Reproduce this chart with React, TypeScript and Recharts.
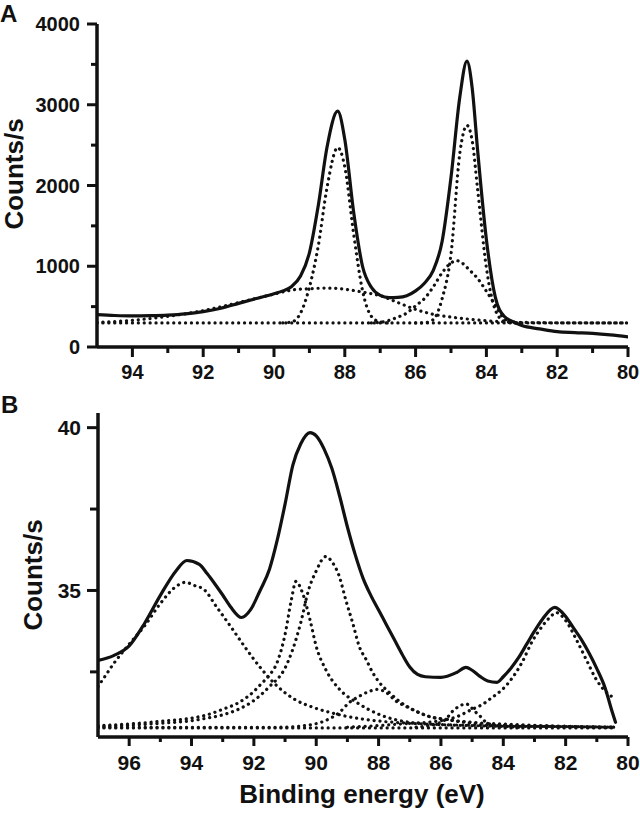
import { LineChart, Line, XAxis, YAxis } from "recharts";

const INK = "#111";
const FONT = "'Liberation Sans', Arial, Helvetica, sans-serif";

// ---------- Panel A (binding energy in eV, counts/s) ----------
const energyA = [
  95, 94.5, 94, 93.5, 93, 92.5, 92, 91.5, 91, 90.5,
  90, 89.75, 89.5, 89.25, 89, 88.75, 88.5, 88.2, 88, 87.75,
  87.5, 87.25, 87, 86.75, 86.5, 86.25, 86, 85.75, 85.5, 85.25,
  85, 84.75, 84.55, 84.4, 84.25, 84, 83.75, 83.5, 83.25, 83,
  82.5, 82, 81.5, 81, 80.5, 80,
];
const envelopeA = [
  400, 390, 385, 388, 395, 410, 438, 480, 540, 600,
  660, 695, 750, 880, 1165, 1750, 2480, 2920, 2570, 1670,
  1000, 740, 640, 612, 615, 635, 695, 790, 950, 1310,
  2100, 3100, 3540, 3200, 2445, 1330, 620, 380, 315, 265,
  225, 190, 178, 168, 150, 125,
];

const peak88EnergyA = [89.75, 89.5, 89.25, 89, 88.75, 88.5, 88.2, 88, 87.75, 87.5, 87.25, 87, 86.75];
const peak88A = [298, 310, 420, 740, 1250, 1980, 2470, 2230, 1400, 700, 380, 310, 298];

const broadEnergyA = [95, 94, 93, 92, 91, 90, 89.5, 89, 88.5, 88, 87.5, 87, 86.5, 86, 85.5, 85, 84.5, 84, 83.5, 83, 82, 80];
const broadA = [305, 330, 380, 450, 550, 655, 705, 722, 730, 715, 680, 635, 550, 465, 405, 370, 345, 325, 312, 305, 300, 298];

const peak85EnergyA = [87.25, 87, 86.75, 86.5, 86.25, 86, 85.75, 85.5, 85.25, 85, 84.85, 84.75, 84.55, 84.4, 84.25, 84, 83.75, 83.5, 83.25, 83];
const peak85A = [298, 305, 330, 370, 420, 510, 600, 745, 920, 1040, 1070, 1060, 985, 920, 850, 690, 520, 350, 305, 298];

const peak845EnergyA = [86, 85.75, 85.5, 85.25, 85, 84.75, 84.55, 84.4, 84.25, 84, 83.75, 83.5, 83.25, 83];
const peak845A = [298, 300, 340, 600, 1150, 2400, 2745, 2550, 1960, 980, 460, 320, 300, 298];

const baselineEnergyA = [95, 80];
const baselineA = [298, 298];

const xTicksA = [80, 81, 82, 83, 84, 85, 86, 87, 88, 89, 90, 91, 92, 93, 94];
const xMajorsA = [80, 82, 84, 86, 88, 90, 92, 94];
const yTicksA = [0, 500, 1000, 1500, 2000, 2500, 3000, 3500, 4000];
const yMajorsA = [0, 1000, 2000, 3000, 4000];

// ---------- Panel B ----------
const envelopeEnergyB = [
  97, 96.5, 96, 95.5, 95, 94.5, 94.15, 93.75, 93.5, 93.25,
  93, 92.75, 92.4, 92.1, 91.8, 91.5, 91.25, 91, 90.75, 90.5,
  90.2, 90, 89.75, 89.5, 89.25, 89, 88.75, 88.5, 88.25, 88,
  87.75, 87.5, 87.25, 87, 86.75, 86.5, 86, 85.5, 85.2, 85,
  84.75, 84.5, 84.2, 84, 83.75, 83.5, 83.25, 83, 82.75, 82.35,
  82, 81.75, 81.5, 81.25, 81, 80.75, 80.5, 80.4,
];
const envelopeB = [
  32.85, 33.0, 33.3, 34.0, 34.85, 35.6, 35.92, 35.8, 35.52, 35.2,
  34.86, 34.5, 34.17, 34.42, 35.0, 35.65, 36.55, 37.65, 38.85, 39.5,
  39.85, 39.75, 39.35, 38.75, 37.9, 36.95, 36.1, 35.38, 34.85, 34.4,
  33.95, 33.5, 33.05, 32.65, 32.42, 32.35, 32.33, 32.48, 32.64, 32.55,
  32.36, 32.22, 32.18, 32.35, 32.62, 32.95, 33.35, 33.75, 34.11, 34.48,
  34.2, 33.85, 33.5, 33.08, 32.6, 32.05, 31.25, 30.95,
];

const peak94EnergyB = [97, 96.75, 96.5, 96, 95.5, 95, 94.5, 94.2, 93.9, 93.6, 93.2, 92.75, 92.3, 91.75, 91.25, 90.7, 90.1, 89.5, 89, 88.5, 88, 87, 86, 85, 84, 82, 80.4];
const peak94B = [32.05, 32.4, 32.75, 33.35, 33.92, 34.6, 35.12, 35.25, 35.15, 35.03, 34.5, 33.9, 33.28, 32.58, 32.06, 31.66, 31.41, 31.24, 31.13, 31.05, 30.99, 30.92, 30.88, 30.86, 30.84, 30.82, 30.8];

const peak906EnergyB = [97, 96, 95, 94, 93.5, 93, 92.5, 92, 91.75, 91.5, 91.25, 91, 90.8, 90.65, 90.45, 90.2, 90, 89.7, 89.25, 88.7, 88, 87, 86, 85, 84, 82, 80.4];
const peak906B = [30.85, 30.9, 30.98, 31.08, 31.18, 31.35, 31.55, 31.9, 32.15, 32.4, 32.8, 33.65, 34.7, 35.28, 34.95, 34.1, 33.28, 32.58, 31.96, 31.56, 31.2, 30.95, 30.88, 30.85, 30.83, 30.82, 30.8];

const peak897EnergyB = [97, 96, 95, 94, 93.5, 93, 92.5, 92, 91.5, 91, 90.75, 90.5, 90.25, 90, 89.7, 89.48, 89.26, 89.05, 88.83, 88.62, 88.4, 88.19, 87.98, 87.66, 87.34, 86.92, 86.38, 85.84, 85, 84, 83, 82, 80.4];
const peak897B = [30.82, 30.86, 30.92, 31.0, 31.08, 31.18, 31.35, 31.62, 32.05, 32.62, 33.2, 34.0, 35.0, 35.6, 36.04, 35.86, 35.43, 34.7, 34.0, 33.28, 32.88, 32.48, 32.18, 31.87, 31.6, 31.35, 31.13, 31.04, 30.95, 30.9, 30.86, 30.83, 30.8];

const peak88EnergyB = [97, 91.2, 90.1, 89.6, 89.26, 88.94, 88.62, 88.3, 88.04, 87.76, 87.44, 87.12, 86.7, 86.38, 85.84, 85, 84, 82, 80.4];
const peak88B = [30.8, 30.8, 30.89, 31.05, 31.25, 31.56, 31.75, 31.9, 31.96, 31.87, 31.6, 31.44, 31.25, 31.13, 31.04, 30.92, 30.86, 30.82, 30.8];

const peak852EnergyB = [86.8, 86.15, 85.84, 85.63, 85.4, 85.2, 85.0, 84.87, 84.7, 84.55, 84.2, 83.5];
const peak852B = [30.8, 30.9, 31.05, 31.29, 31.45, 31.52, 31.38, 31.25, 31.1, 30.95, 30.85, 30.8];

const peak823EnergyB = [89, 88, 87, 86.15, 85.5, 85, 84.67, 84.35, 84.03, 83.7, 83.4, 83.07, 82.75, 82.5, 82.3, 81.98, 81.66, 81.34, 81.02, 80.69, 80.45];
const peak823B = [30.8, 30.85, 30.92, 30.98, 31.12, 31.35, 31.5, 31.72, 31.96, 32.33, 32.79, 33.44, 33.9, 34.18, 34.32, 34.05, 33.5, 32.88, 32.27, 31.87, 31.7];

const baselineEnergyB = [97, 80.4];
const baselineB = [30.78, 30.78];

const xTicksB = [80, 81, 82, 83, 84, 85, 86, 87, 88, 89, 90, 91, 92, 93, 94, 95, 96];
const xMajorsB = [80, 82, 84, 86, 88, 90, 92, 94, 96];
const yTicksB = [32.5, 35, 37.5, 40];
const yMajorsB = [35, 40];

type Series = { key: string; e: number[]; v: number[]; dotted: boolean };

const seriesA: Series[] = [
  { key: "baseline", e: baselineEnergyA, v: baselineA, dotted: true },
  { key: "broad", e: broadEnergyA, v: broadA, dotted: true },
  { key: "p88", e: peak88EnergyA, v: peak88A, dotted: true },
  { key: "p85", e: peak85EnergyA, v: peak85A, dotted: true },
  { key: "p845", e: peak845EnergyA, v: peak845A, dotted: true },
  { key: "envelope", e: energyA, v: envelopeA, dotted: false },
];

const seriesB: Series[] = [
  { key: "baseline", e: baselineEnergyB, v: baselineB, dotted: true },
  { key: "p94", e: peak94EnergyB, v: peak94B, dotted: true },
  { key: "p906", e: peak906EnergyB, v: peak906B, dotted: true },
  { key: "p897", e: peak897EnergyB, v: peak897B, dotted: true },
  { key: "p88", e: peak88EnergyB, v: peak88B, dotted: true },
  { key: "p852", e: peak852EnergyB, v: peak852B, dotted: true },
  { key: "p823", e: peak823EnergyB, v: peak823B, dotted: true },
  { key: "envelope", e: envelopeEnergyB, v: envelopeB, dotted: false },
];

// one row per energy, sorted high -> low (left -> right on the reversed axis)
function buildRows(series: Series[]) {
  const rows = new Map<number, Record<string, number>>();
  series.forEach(({ key, e, v }) => {
    e.forEach((x, i) => {
      const row = rows.get(x) ?? { e: x };
      row[key] = v[i];
      rows.set(x, row);
    });
  });
  return [...rows.values()].sort((a, b) => b.e - a.e);
}

type TickCfg = { majors: number[]; major: number; minor: number; fontSize: number; gap: number };

function LeftTick(props: any) {
  const { x, y, payload, cfg } = props;
  const isMajor = cfg.majors.includes(payload.value);
  return (
    <g>
      <line x1={x} y1={y} x2={x - (isMajor ? cfg.major : cfg.minor)} y2={y} stroke={INK} strokeWidth={3} />
      {isMajor && (
        <text x={x - cfg.gap} y={y} dy="0.36em" textAnchor="end" fontSize={cfg.fontSize} fontWeight="bold" fontFamily={FONT} fill={INK}>
          {payload.value}
        </text>
      )}
    </g>
  );
}

function BottomTick(props: any) {
  const { x, y, payload, cfg } = props;
  const isMajor = cfg.majors.includes(payload.value);
  return (
    <g>
      <line x1={x} y1={y} x2={x} y2={y + (isMajor ? cfg.major : cfg.minor)} stroke={INK} strokeWidth={3} />
      {isMajor && (
        <text x={x} y={y + cfg.gap} textAnchor="middle" fontSize={cfg.fontSize} fontWeight="bold" fontFamily={FONT} fill={INK}>
          {payload.value}
        </text>
      )}
    </g>
  );
}

const yTickA: TickCfg = { majors: yMajorsA, major: 10, minor: 6, fontSize: 20, gap: 17 };
const xTickA: TickCfg = { majors: xMajorsA, major: 10, minor: 6, fontSize: 20, gap: 32 };
const yTickB: TickCfg = { majors: yMajorsB, major: 11, minor: 8, fontSize: 21, gap: 17 };
const xTickB: TickCfg = { majors: xMajorsB, major: 9, minor: 5, fontSize: 21, gap: 33 };

const axisLine = { stroke: INK, strokeWidth: 3.5 };

function renderLines(series: Series[]) {
  return series.map((s) => (
    <Line
      key={s.key}
      dataKey={s.key}
      type="monotone"
      stroke={INK}
      strokeWidth={s.dotted ? 3.2 : 3.2}
      strokeDasharray={s.dotted ? "0.1 5.8" : undefined}
      strokeLinecap="round"
      dot={false}
      activeDot={false}
      connectNulls
      isAnimationActive={false}
    />
  ));
}

export default function App() {
  const rowsA = buildRows(seriesA);
  const rowsB = buildRows(seriesB);

  return (
    <div style={{ position: "absolute", left: 0, top: 0, width: 640, height: 814, background: "#fff" }}>
      {/* Panel A */}
      <div style={{ position: "absolute", left: 0, top: 0 }}>
        <LineChart width={640} height={395} data={rowsA} margin={{ top: 24, right: 12, bottom: 15, left: 0 }}>
          <XAxis
            dataKey="e"
            type="number"
            domain={[80, 95]}
            reversed
            allowDataOverflow
            ticks={xTicksA}
            interval={0}
            height={33}
            tickSize={0}
            tickMargin={0}
            tickLine={false}
            axisLine={axisLine}
            tick={(p: any) => <BottomTick {...p} cfg={xTickA} />}
          />
          <YAxis
            type="number"
            domain={[0, 4000]}
            allowDataOverflow
            ticks={yTicksA}
            interval={0}
            width={97}
            tickSize={0}
            tickMargin={0}
            tickLine={false}
            axisLine={axisLine}
            tick={(p: any) => <LeftTick {...p} cfg={yTickA} />}
          />
          {renderLines(seriesA)}
        </LineChart>
      </div>

      {/* Panel B */}
      <div style={{ position: "absolute", left: 0, top: 380 }}>
        <LineChart width={640} height={434} data={rowsB} margin={{ top: 33, right: 12, bottom: 44, left: 0 }}>
          <XAxis
            dataKey="e"
            type="number"
            domain={[80, 97]}
            reversed
            allowDataOverflow
            ticks={xTicksB}
            interval={0}
            height={33}
            tickSize={0}
            tickMargin={0}
            tickLine={false}
            axisLine={axisLine}
            tick={(p: any) => <BottomTick {...p} cfg={xTickB} />}
          />
          <YAxis
            type="number"
            domain={[30.5, 40.45]}
            allowDataOverflow
            ticks={yTicksB}
            interval={0}
            width={98}
            tickSize={0}
            tickMargin={0}
            tickLine={false}
            axisLine={axisLine}
            tick={(p: any) => <LeftTick {...p} cfg={yTickB} />}
          />
          {renderLines(seriesB)}
        </LineChart>
      </div>

      {/* Panel letters and axis titles */}
      <svg width={640} height={814} style={{ position: "absolute", left: 0, top: 0, pointerEvents: "none" }}>
        <g fontFamily={FONT} fontWeight="bold" fill={INK}>
          <text x={0} y={22} fontSize={24}>A</text>
          <text x={1} y={413} fontSize={24}>B</text>
          <text x={23} y={174} fontSize={26} textAnchor="middle" transform="rotate(-90 23 174)">Counts/s</text>
          <text x={42} y={575} fontSize={26} textAnchor="middle" transform="rotate(-90 42 575)">Counts/s</text>
          <text x={362} y={803} fontSize={26} textAnchor="middle">Binding energy (eV)</text>
        </g>
      </svg>
    </div>
  );
}
